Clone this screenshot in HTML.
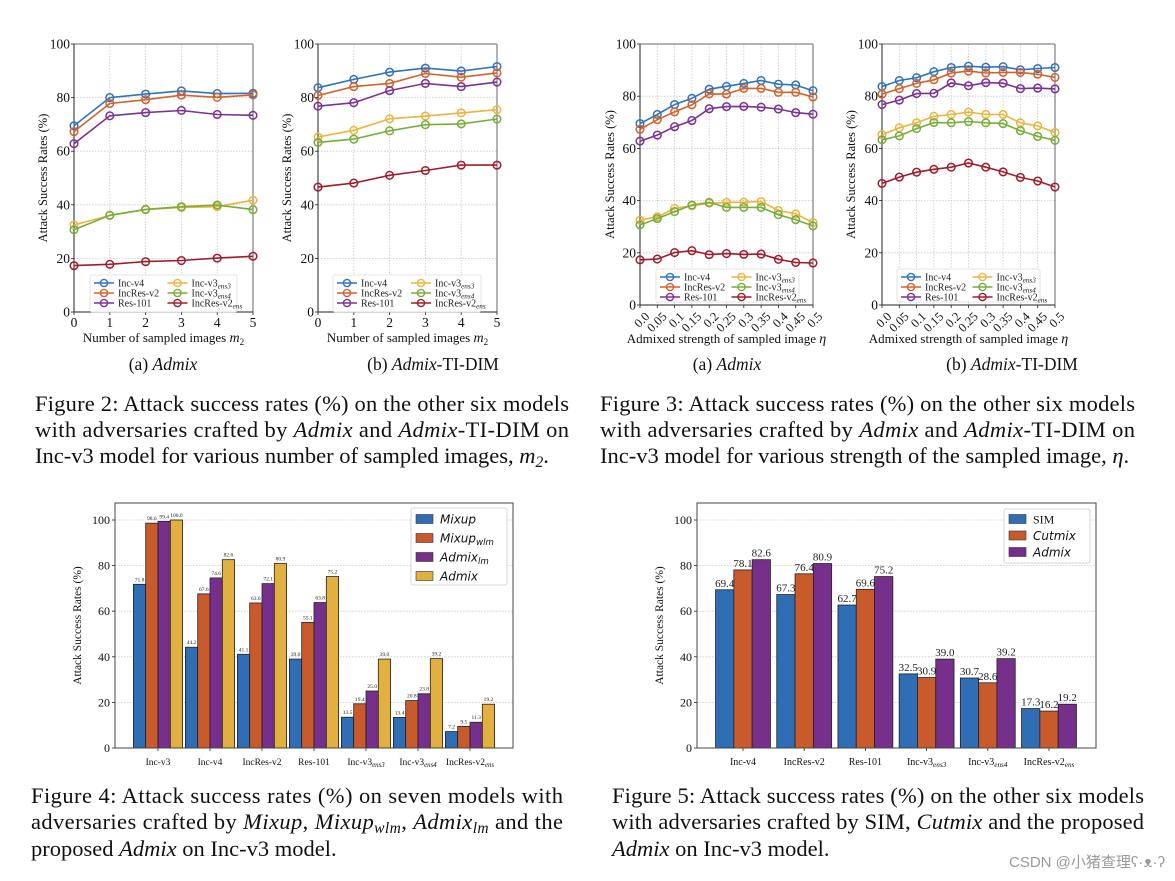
<!DOCTYPE html>
<html><head><meta charset="utf-8">
<style>
html,body{margin:0;padding:0;background:#fff;}
svg{display:block;}
text{font-family:"Liberation Serif",serif;}
</style></head>
<body>
<svg id="root" width="1175" height="881" viewBox="0 0 1175 881" xmlns="http://www.w3.org/2000/svg"></svg>
<script>
// ---------- DATA ----------
const seriesNames = ["Inc-v4","IncRes-v2","Res-101","Inc-v3ens3","Inc-v3ens4","IncRes-v2ens"];
const fig2X = ["0","1","2","3","4","5"];
const fig2aIncV4 = [69.5,80.0,81.3,82.5,81.5,81.6];
const fig2aIncResV2 = [67.3,77.8,79.2,80.9,80.1,81.0];
const fig2aRes101 = [62.8,73.2,74.4,75.2,73.7,73.4];
const fig2aEns3 = [32.5,36.0,38.2,39.0,39.3,41.7];
const fig2aEns4 = [30.7,36.1,38.3,39.3,39.9,38.2];
const fig2aV2Ens = [17.3,17.8,18.8,19.2,20.1,20.8];
const fig2bIncV4 = [83.7,86.8,89.5,91.0,89.9,91.6];
const fig2bIncResV2 = [80.8,84.1,85.3,89.0,87.6,89.2];
const fig2bRes101 = [76.8,78.1,82.6,85.3,84.1,85.8];
const fig2bEns3 = [65.3,67.8,72.1,73.1,74.3,75.5];
const fig2bEns4 = [63.3,64.5,67.6,69.9,70.2,72.0];
const fig2bV2Ens = [46.6,48.1,51.0,52.8,54.8,54.8];
const fig3X = ["0.0","0.05","0.1","0.15","0.2","0.25","0.3","0.35","0.4","0.45","0.5"];
const fig3aIncV4 = [69.5,73.0,76.8,79.2,82.7,83.8,84.9,86.0,84.6,84.3,82.1];
const fig3aIncResV2 = [67.3,71.0,74.0,76.7,80.9,80.8,83.0,83.0,81.5,81.5,79.7];
const fig3aRes101 = [62.8,65.1,68.3,70.7,75.2,76.0,76.1,75.8,75.1,73.7,73.1];
const fig3aEns3 = [32.5,33.8,37.0,38.0,39.0,39.3,39.4,39.6,36.2,34.9,31.6];
const fig3aEns4 = [30.7,33.1,35.8,38.3,39.3,37.4,37.4,37.4,34.6,32.7,30.3];
const fig3aV2Ens = [17.3,17.6,20.1,20.8,19.3,19.7,19.4,19.5,17.5,16.3,16.1];
const fig3bIncV4 = [83.7,86.0,87.1,89.4,91.0,91.5,91.1,91.3,90.1,90.6,91.0];
const fig3bIncResV2 = [80.8,82.9,84.9,86.3,88.9,89.6,88.9,89.1,89.1,88.4,87.2];
const fig3bRes101 = [76.8,78.5,81.0,81.1,85.1,84.0,85.2,85.0,82.9,83.1,82.8];
const fig3bEns3 = [65.3,67.9,69.8,72.3,73.0,73.9,73.0,73.0,69.8,68.6,66.1];
const fig3bEns4 = [63.3,64.8,67.6,69.9,69.8,70.3,69.8,69.5,66.8,64.6,63.1];
const fig3bV2Ens = [46.6,49.0,50.9,52.0,52.8,54.4,52.8,51.0,48.9,47.5,45.2];
const lineYTicks = [0,20,40,60,80,100];

const fig4Categories = ["Inc-v3","Inc-v4","IncRes-v2","Res-101","Inc-v3ens3","Inc-v3ens4","IncRes-v2ens"];
const fig4Mixup = [71.8,44.2,41.1,39.0,13.5,13.4,7.2];
const fig4MixupWlm = [98.6,67.6,63.6,55.1,19.4,20.8,9.5];
const fig4AdmixLm = [99.4,74.6,72.1,63.8,25.0,23.8,11.3];
const fig4Admix = [100.0,82.6,80.9,75.2,39.0,39.2,19.2];
const fig5Categories = ["Inc-v4","IncRes-v2","Res-101","Inc-v3ens3","Inc-v3ens4","IncRes-v2ens"];
const fig5Sim = [69.4,67.3,62.7,32.5,30.7,17.3];
const fig5Cutmix = [78.1,76.4,69.6,30.9,28.6,16.2];
const fig5Admix = [82.6,80.9,75.2,39.0,39.2,19.2];
const barYTicks = [0,20,40,60,80,100];

// ---------- HELPERS ----------
const NS = "http://www.w3.org/2000/svg";
const root = document.getElementById('root');
function mk(parent, tag, attrs){
  const e = document.createElementNS(NS, tag);
  for (const k in attrs) e.setAttribute(k, attrs[k]);
  parent.appendChild(e);
  return e;
}
function subLabel(t, txt, italicMain){
  const m = txt.match(/^(.*?)(ens\d?|wlm|lm)$/);
  if (!m){ t.textContent = txt; if(italicMain) t.setAttribute('font-style','italic'); return; }
  const a = document.createElementNS(NS,'tspan'); a.textContent = m[1];
  if (italicMain) a.setAttribute('font-style','italic');
  t.appendChild(a);
  const b = document.createElementNS(NS,'tspan'); b.textContent = m[2];
  b.setAttribute('font-style','italic'); b.setAttribute('font-size','0.72em'); b.setAttribute('dy','0.3em');
  t.appendChild(b);
}
const lineColors = ["#2f73c0","#d4622a","#7b3294","#ebb43f","#76ae3c","#a11d2c"];

function lineChart(name, box, xs, series, opts){
  const g = mk(root,'g',{});
  
  
  const {L,R,T,B} = box;
  const xScale = i => L + (R-L)*i/(xs.length-1);
  const yScale = v => B - (B-T)*v/100;
  lineYTicks.forEach(v=>{
    const gl = mk(g,'line',{x1:L,x2:R,y1:yScale(v),y2:yScale(v),stroke:'#c8c8c8','stroke-width':0.8,'stroke-dasharray':'1.5,1.5'});
     
    const tl = mk(g,'text',{x:L-4,y:yScale(v)+4.5,'text-anchor':'end','font-size':13.5,fill:'#111'});
    tl.textContent = v;
     
    mk(g,'line',{x1:L-3,x2:L,y1:yScale(v),y2:yScale(v),stroke:'#222','stroke-width':0.8});
  });
  xs.forEach((lab,i)=>{
    const gl = mk(g,'line',{x1:xScale(i),x2:xScale(i),y1:T,y2:B,stroke:'#c8c8c8','stroke-width':0.8,'stroke-dasharray':'1.5,1.5'});
     
    mk(g,'line',{x1:xScale(i),x2:xScale(i),y1:B,y2:B+3,stroke:'#222','stroke-width':0.8});
    let tl;
    if (opts.rotate){
      tl = mk(g,'text',{x:xScale(i)+4,y:B+6,'text-anchor':'end','font-size':12.5,fill:'#111',transform:`rotate(-45 ${xScale(i)+4} ${B+6})`});
      tl.setAttribute('dominant-baseline','hanging');
    } else {
      tl = mk(g,'text',{x:xScale(i),y:B+15,'text-anchor':'middle','font-size':13.5,fill:'#111'});
    }
    tl.textContent = lab;
     
  });
  mk(g,'line',{x1:L,x2:R,y1:T,y2:T,stroke:'#888','stroke-width':1.3});
  mk(g,'line',{x1:R,x2:R,y1:T,y2:B,stroke:'#888','stroke-width':1.3});
  mk(g,'line',{x1:L,x2:L,y1:T,y2:B,stroke:'#222','stroke-width':1});
  mk(g,'line',{x1:L,x2:R,y1:B,y2:B,stroke:'#222','stroke-width':1});
  series.forEach((vals,si)=>{
    const sg = mk(g,'g',{});
    
    
    const pts = vals.map((v,i)=>xScale(i).toFixed(1)+','+yScale(v).toFixed(1)).join(' ');
    mk(sg,'polyline',{points:pts,fill:'none',stroke:lineColors[si],'stroke-width':1.6});
    vals.forEach((v,i)=>{
      const c = mk(sg,'circle',{cx:xScale(i),cy:yScale(v),r:3.8,fill:'none',stroke:lineColors[si],'stroke-width':1.5});
       
    });
  });
  const lg = mk(g,'g',{});
   
  const lb = opts.legend;
  mk(lg,'rect',{x:lb.x,y:lb.y,width:lb.w,height:lb.h,fill:'#fff','fill-opacity':0.85,stroke:'#ddd','stroke-width':0.8,rx:2});
  seriesNames.forEach((n,si)=>{
    const col = Math.floor(si/3), row = si%3;
    const ex = lb.x + 4 + col*(lb.w*0.5);
    const ey = lb.y + 8 + row*10;
    const en = mk(lg,'g',{});
     
    mk(en,'line',{x1:ex,x2:ex+20,y1:ey,y2:ey,stroke:lineColors[si],'stroke-width':1.6});
    mk(en,'circle',{cx:ex+10,cy:ey,r:3.6,fill:'none',stroke:lineColors[si],'stroke-width':1.4});
    const t = mk(en,'text',{x:ex+24,y:ey+3.5,'font-size':10,fill:'#222'});
    subLabel(t,n,false);
  });
  const yl = mk(g,'text',{x:opts.ylx,y:(T+B)/2,'text-anchor':'middle','font-size':12.5,fill:'#111',transform:`rotate(-90 ${opts.ylx} ${(T+B)/2})`});
  yl.textContent = 'Attack Success Rates (%)';
   
  const xl = mk(g,'text',{x:(L+R)/2,y:opts.rotate?343:342,'text-anchor':'middle','font-size':13,fill:'#111'});
   
  if (opts.xtitle==='m'){
    xl.textContent = 'Number of sampled images ';
    const a = document.createElementNS(NS,'tspan'); a.setAttribute('font-style','italic'); a.setAttribute('font-size','14'); a.textContent='m'; xl.appendChild(a);
    const b = document.createElementNS(NS,'tspan'); b.setAttribute('font-size','9'); b.setAttribute('dy','3'); b.textContent='2'; xl.appendChild(b);
  } else {
    xl.textContent = 'Admixed strength of sampled image ';
    const a = document.createElementNS(NS,'tspan'); a.setAttribute('font-style','italic'); a.setAttribute('font-size','14'); a.textContent='η'; xl.appendChild(a);
  }
}

function barChart(name, box, cats, series, colors, opts){
  const g = mk(root,'g',{});
  
  
  const {L,R,T,B,y100,c0,step,bw} = box;
  const yScale = v => B - (B-y100)*v/100;
  barYTicks.forEach(v=>{
    if (v>0){
      const gl = mk(g,'line',{x1:L,x2:R,y1:yScale(v),y2:yScale(v),stroke:'#c8c8c8','stroke-width':0.8,'stroke-dasharray':'1.5,1.5'});
       
    }
    mk(g,'line',{x1:L-3,x2:L,y1:yScale(v),y2:yScale(v),stroke:'#222','stroke-width':0.8});
    const tl = mk(g,'text',{x:L-5,y:yScale(v)+4,'text-anchor':'end','font-size':12,fill:'#111'});
    tl.textContent = v;
     
  });
  const n = series.length;
  cats.forEach((c,ci)=>{
    const cx = c0 + step*ci;
    mk(g,'line',{x1:cx,x2:cx,y1:B,y2:B+3,stroke:'#222','stroke-width':0.8});
    const tl = mk(g,'text',{x:cx,y:B+17,'text-anchor':'middle','font-size':opts.catFont,fill:'#111'});
    subLabel(tl,c,false);
     
    series.forEach((vals,si)=>{
      const x = cx - n*bw/2 + si*bw;
      const r = mk(g,'rect',{x:x,y:yScale(vals[ci]),width:bw,height:B-yScale(vals[ci]),fill:colors[si],stroke:'#222','stroke-width':0.8});
       
      const vt = mk(g,'text',{x:x+bw/2,y:yScale(vals[ci])-opts.valGap,'text-anchor':'middle','font-size':opts.valFont,fill:'#222'});
      vt.textContent = vals[ci].toFixed(1);
       
    });
  });
  mk(g,'rect',{x:L,y:T,width:R-L,height:B-T,fill:'none',stroke:'#444','stroke-width':1});
  const yl = mk(g,'text',{x:opts.ylx,y:(T+B)/2,'text-anchor':'middle','font-size':11.5,fill:'#111',transform:`rotate(-90 ${opts.ylx} ${(T+B)/2})`});
  yl.textContent = 'Attack Success Rates (%)';
   
  const lb = opts.legend;
  const lg = mk(g,'g',{});
   
  mk(lg,'rect',{x:lb.x,y:lb.y,width:lb.w,height:lb.h,fill:'#fff',stroke:'#ccc','stroke-width':0.8,rx:2});
  opts.names.forEach((nm,si)=>{
    const ey = lb.y + lb.first + si*lb.row;
    const en = mk(lg,'g',{});
     
    mk(en,'rect',{x:lb.x+5,y:ey-4.5,width:17,height:9,fill:colors[si],stroke:'#333','stroke-width':0.6});
    const t = mk(en,'text',{x:lb.x+29,y:ey+4.5,'font-size':lb.font,fill:'#111'});
    t.style.fontFamily = nm.roman ? '"Liberation Serif",serif' : '"DejaVu Sans",sans-serif';
    subLabel(t,nm.t,!nm.roman);
  });
}

function para(name, x, ys, lines, widths){
  const g = mk(root,'g',{});
  
  
  lines.forEach((ln,i)=>{
    const t = mk(g,'text',{x:x,y:ys[i],'font-size':22.5,fill:'#111'});
    if (widths[i]) { t.setAttribute('textLength',widths[i]); t.setAttribute('lengthAdjust','spacing'); }
    ln.forEach(seg=>{
      const s = document.createElementNS(NS,'tspan');
      s.textContent = seg[0];
      if (seg[1]==='i') s.setAttribute('font-style','italic');
      if (seg[1]==='sub'){ s.setAttribute('font-style','italic'); s.setAttribute('font-size','15.5'); s.setAttribute('dy','4'); }
      if (seg[1]==='up'){ s.setAttribute('dy','-4'); }
      t.appendChild(s);
    });
  });
}
function sub(name,x,text,italicPart,rest){
  const t = mk(root,'text',{x:x,y:370,'text-anchor':'middle','font-size':17.5,fill:'#111'});
   
  const a=document.createElementNS(NS,'tspan'); a.textContent=text; t.appendChild(a);
  const b=document.createElementNS(NS,'tspan'); b.setAttribute('font-style','italic'); b.textContent=italicPart; t.appendChild(b);
  if(rest){const c=document.createElementNS(NS,'tspan'); c.textContent=rest; t.appendChild(c);}
}

// ---------- DRAW ----------
lineChart('chart-fig2a',{L:74,R:253,T:44,B:312},fig2X,[fig2aIncV4,fig2aIncResV2,fig2aRes101,fig2aEns3,fig2aEns4,fig2aV2Ens],{legend:{x:90,y:275,w:147,h:37},ylx:47,xtitle:'m'});
lineChart('chart-fig2b',{L:318,R:497,T:44,B:312},fig2X,[fig2bIncV4,fig2bIncResV2,fig2bRes101,fig2bEns3,fig2bEns4,fig2bV2Ens],{legend:{x:333,y:275,w:148,h:37},ylx:291,xtitle:'m'});
lineChart('chart-fig3a',{L:640,R:813,T:44,B:305},fig3X,[fig3aIncV4,fig3aIncResV2,fig3aRes101,fig3aEns3,fig3aEns4,fig3aV2Ens],{legend:{x:656,y:269,w:143,h:33},ylx:614,xtitle:'eta',rotate:true});
lineChart('chart-fig3b',{L:882,R:1055,T:44,B:305},fig3X,[fig3bIncV4,fig3bIncResV2,fig3bRes101,fig3bEns3,fig3bEns4,fig3bV2Ens],{legend:{x:897,y:269,w:143,h:33},ylx:855,xtitle:'eta',rotate:true});

sub('subcaption-2a',163,'(a) ','Admix');
sub('subcaption-2b',433,'(b) ','Admix','-TI-DIM');
sub('subcaption-3a',727,'(a) ','Admix');
sub('subcaption-3b',1012,'(b) ','Admix','-TI-DIM');

barChart('chart-fig4',{L:115,R:513,T:503,B:748,y100:520,c0:158,step:52,bw:12.3},fig4Categories,[fig4Mixup,fig4MixupWlm,fig4AdmixLm,fig4Admix],["#2f6db5","#c85a2c","#76308c","#e2b040"],
  {catFont:9.5,valFont:5.5,valGap:3,ylx:81,names:[{t:'Mixup'},{t:'Mixupwlm'},{t:'Admixlm'},{t:'Admix'}],legend:{x:411,y:508,w:96,h:77,first:11,row:19,font:12}});
barChart('chart-fig5',{L:697,R:1096,T:503,B:748,y100:520,c0:743,step:61.2,bw:18.3},fig5Categories,[fig5Sim,fig5Cutmix,fig5Admix],["#2f6db5","#c85a2c","#76308c"],
  {catFont:10,valFont:11,valGap:3,ylx:663,names:[{t:'SIM',roman:true},{t:'Cutmix'},{t:'Admix'}],legend:{x:1004,y:509,w:86,h:54,first:10,row:16.5,font:12}});

para('caption-fig2',35,[411,437,463],[
  [['Figure 2:  Attack success rates (%) on the other six models']],
  [['with adversaries crafted by '],['Admix','i'],[' and '],['Admix','i'],['-TI-DIM on']],
  [['Inc-v3 model for various number of sampled images, '],['m','i'],['2','sub'],['.','up']]
],[534,534,0]);
para('caption-fig3',600,[411,437,463],[
  [['Figure 3:  Attack success rates (%) on the other six models']],
  [['with adversaries crafted by '],['Admix','i'],[' and '],['Admix','i'],['-TI-DIM on']],
  [['Inc-v3 model for various strength of the sampled image, '],['η','i'],['.']]
],[535,535,0]);
para('caption-fig4',31,[803,829,856],[
  [['Figure 4:  Attack success rates (%) on seven models with']],
  [['adversaries crafted by '],['Mixup','i'],[', '],['Mixup','i'],['wlm','sub'],[', ','up'],['Admix','i'],['lm','sub'],[' and the','up']],
  [['proposed '],['Admix','i'],[' on Inc-v3 model.']]
],[532,532,0]);
para('caption-fig5',612,[803,829,856],[
  [['Figure 5:  Attack success rates (%) on the other six models']],
  [['with adversaries crafted by SIM, '],['Cutmix','i'],[' and the proposed']],
  [['Admix','i'],[' on Inc-v3 model.']]
],[532,532,0]);

const wm = mk(root,'text',{x:1165,y:867,'text-anchor':'end','font-size':15,fill:'#9a9a9a'});
wm.style.fontFamily = '"Liberation Sans","Noto Sans CJK SC",sans-serif';
wm.textContent = 'CSDN @小猪查理ʕ·ᴥ·ʔ';
 
</script>
</body></html>
